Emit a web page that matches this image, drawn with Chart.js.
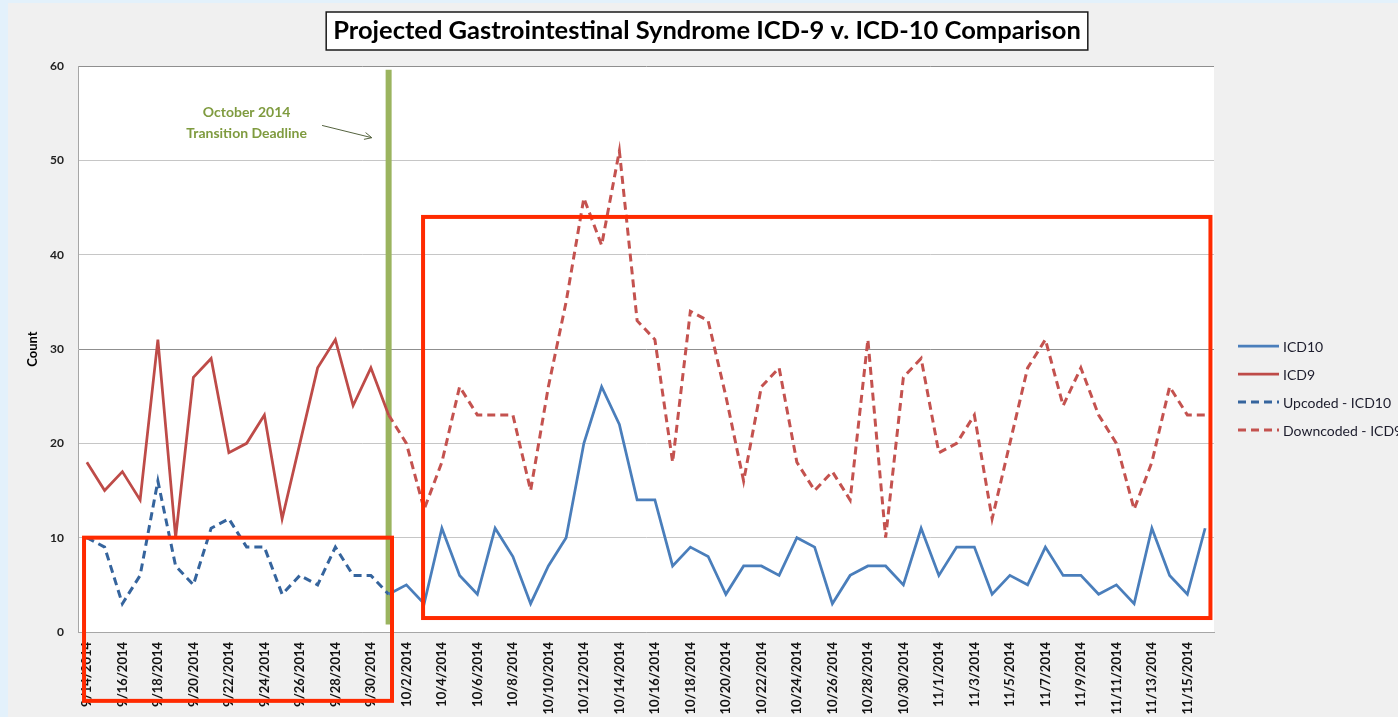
<!DOCTYPE html>
<html>
<head>
<meta charset="utf-8">
<title>Projected Gastrointestinal Syndrome ICD-9 v. ICD-10 Comparison</title>
<script src="https://cdn.jsdelivr.net/npm/chart.js@4.4.1/dist/chart.umd.min.js"></script>
<style>
  html, body { margin: 0; padding: 0; background: #f0f0f0; overflow: hidden; }
  #wrap { position: relative; width: 1398px; height: 717px; }
</style>
</head>
<body>
<div id="wrap"><canvas id="chart"></canvas></div>
<script>
// data
const dates = [
    '9/14/2014', '9/15/2014', '9/16/2014', '9/17/2014', '9/18/2014', '9/19/2014', '9/20/2014', '9/21/2014',
    '9/22/2014', '9/23/2014', '9/24/2014', '9/25/2014', '9/26/2014', '9/27/2014', '9/28/2014', '9/29/2014',
    '9/30/2014', '10/1/2014', '10/2/2014', '10/3/2014', '10/4/2014', '10/5/2014', '10/6/2014', '10/7/2014',
    '10/8/2014', '10/9/2014', '10/10/2014', '10/11/2014', '10/12/2014', '10/13/2014', '10/14/2014', '10/15/2014',
    '10/16/2014', '10/17/2014', '10/18/2014', '10/19/2014', '10/20/2014', '10/21/2014', '10/22/2014', '10/23/2014',
    '10/24/2014', '10/25/2014', '10/26/2014', '10/27/2014', '10/28/2014', '10/29/2014', '10/30/2014', '10/31/2014',
    '11/1/2014', '11/2/2014', '11/3/2014', '11/4/2014', '11/5/2014', '11/6/2014', '11/7/2014', '11/8/2014',
    '11/9/2014', '11/10/2014', '11/11/2014', '11/12/2014', '11/13/2014', '11/14/2014', '11/15/2014', '11/16/2014'
];
const transitionIndex = 17; // 10/1/2014

// 9/14 - 10/1
const icd9 = [18, 15, 17, 14, 31, 10, 27, 29, 19, 20, 23, 12, 20, 28, 31, 24, 28, 23];
const upcodedIcd10 = [10, 9, 3, 6, 16, 7, 5, 11, 12, 9, 9, 4, 6, 5, 9, 6, 6, 4];

// 10/1 - 11/16
const icd10 = [4, 5, 3, 11, 6, 4, 11, 8, 3, 7, 10, 20, 26, 22, 14, 14, 7, 9, 8, 4, 7, 7, 6, 10,
    9, 3, 6, 7, 7, 5, 11, 6, 9, 9, 4, 6, 5, 9, 6, 6, 4, 5, 3, 11, 6, 4, 11];
const downcodedIcd9 = [23, 20, 13, 18, 26, 23, 23, 23, 15, 26, 35, 46, 41, 51, 33, 31, 18, 34, 33, 25, 16, 26, 28, 18,
    15, 17, 14, 31, 10, 27, 29, 19, 20, 23, 12, 20, 28, 31, 24, 28, 23, 20, 13, 18, 26, 23, 23];

const yTicks = [0, 10, 20, 30, 40, 50, 60];

const chartTitle = 'Projected Gastrointestinal Syndrome ICD-9 v. ICD-10 Comparison';
const noteLines = ['October 2014', 'Transition Deadline'];

// place a partial series on the full date axis
function placeSeries(values, start) {
    const out = new Array(dates.length).fill(null);
    values.forEach((v, i) => { out[start + i] = v; });
    return out;
}

Chart.defaults.font.family = 'Lato, "Liberation Sans", sans-serif';

// background, marker line, note, boxes, title and legend
const decorPlugin = {
    id: 'decor',
    beforeDraw(chart) {
        const { ctx, chartArea: a, width, height } = chart;
        ctx.save();
        ctx.fillStyle = '#f0f0f0';
        ctx.fillRect(0, 0, width, height);
        ctx.fillStyle = '#e3f1fb';
        ctx.fillRect(0, 0, 8, height);
        ctx.fillRect(0, 0, width, 3);
        ctx.fillStyle = '#ffffff';
        ctx.fillRect(a.left, a.top, a.right - a.left, a.bottom - a.top);
        ctx.restore();
    },
    beforeDatasetsDraw(chart) {
        const { ctx } = chart;
        const xs = chart.scales.x, ys = chart.scales.y;
        ctx.save();
        // transition line
        const gx = xs.getPixelForValue(transitionIndex);
        ctx.strokeStyle = '#9bb45f';
        ctx.lineWidth = 6;
        ctx.beginPath();
        ctx.moveTo(gx, ys.getPixelForValue(59.6));
        ctx.lineTo(gx, ys.getPixelForValue(0.8));
        ctx.stroke();

        // note text
        ctx.fillStyle = '#7f9b3f';
        ctx.font = 'bold 14px Lato, sans-serif';
        ctx.textAlign = 'center';
        ctx.textBaseline = 'middle';
        ctx.fillText(noteLines[0], xs.getPixelForValue(9), ys.getPixelForValue(55.1));
        ctx.fillText(noteLines[1], xs.getPixelForValue(9), ys.getPixelForValue(52.8));

        // arrow
        const x1 = xs.getPixelForValue(13.25), y1 = ys.getPixelForValue(53.7);
        const x2 = xs.getPixelForValue(16.05), y2 = ys.getPixelForValue(52.4);
        const ang = Math.atan2(y2 - y1, x2 - x1);
        ctx.strokeStyle = '#55633f';
        ctx.lineWidth = 1;
        ctx.beginPath();
        ctx.moveTo(x1, y1);
        ctx.lineTo(x2, y2);
        ctx.moveTo(x2 - 8 * Math.cos(ang - 0.45), y2 - 8 * Math.sin(ang - 0.45));
        ctx.lineTo(x2, y2);
        ctx.lineTo(x2 - 8 * Math.cos(ang + 0.45), y2 - 8 * Math.sin(ang + 0.45));
        ctx.stroke();
        ctx.restore();
    },
    afterDatasetsDraw(chart) {
        const { ctx } = chart;
        const xs = chart.scales.x, ys = chart.scales.y;
        ctx.save();
        ctx.strokeStyle = '#ff2a00';
        ctx.lineWidth = 4;
        let l = xs.getPixelForValue(-0.16), r = xs.getPixelForValue(17.19);
        let t = ys.getPixelForValue(10), b = ys.getPixelForValue(-7.3);
        ctx.strokeRect(l, t, r - l, b - t);
        l = xs.getPixelForValue(18.94); r = xs.getPixelForValue(63.3);
        t = ys.getPixelForValue(44); b = ys.getPixelForValue(1.48);
        ctx.strokeRect(l, t, r - l, b - t);
        ctx.restore();
    },
    afterDraw(chart) {
        const { ctx, chartArea: a, width } = chart;
        ctx.save();
        // title in a box
        ctx.font = 'bold 25.5px Lato, sans-serif';
        const tw = ctx.measureText(chartTitle).width;
        const cx = width / 2 + 8, cy = 31;
        ctx.fillStyle = '#ffffff';
        ctx.fillRect(cx - tw / 2 - 7, cy - 19, tw + 14, 38);
        ctx.strokeStyle = '#1a1a1a';
        ctx.lineWidth = 1.5;
        ctx.strokeRect(cx - tw / 2 - 7, cy - 19, tw + 14, 38);
        ctx.fillStyle = '#000000';
        ctx.textAlign = 'center';
        ctx.textBaseline = 'middle';
        ctx.fillText(chartTitle, cx, cy);

        // legend
        ctx.font = '14px Lato, sans-serif';
        ctx.textAlign = 'left';
        chart.data.datasets.forEach((ds, i) => {
            const y = a.top + 280 + i * 28;
            ctx.strokeStyle = ds.borderColor;
            ctx.lineWidth = ds.borderWidth;
            ctx.setLineDash(ds.borderDash || []);
            ctx.beginPath();
            ctx.moveTo(a.right + 24, y);
            ctx.lineTo(a.right + 65, y);
            ctx.stroke();
            ctx.setLineDash([]);
            ctx.fillStyle = '#1c1c2c';
            ctx.fillText(ds.label, a.right + 69, y + 1);
        });
        ctx.restore();
    }
};

new Chart(document.getElementById('chart'), {
    type: 'line',
    data: {
        labels: dates,
        datasets: [
            {
                label: 'ICD10',
                data: placeSeries(icd10, transitionIndex),
                borderColor: '#4a7ebb',
                borderWidth: 2.75
            },
            {
                label: 'ICD9',
                data: placeSeries(icd9, 0),
                borderColor: '#be4b48',
                borderWidth: 2.75
            },
            {
                label: 'Upcoded - ICD10',
                data: placeSeries(upcodedIcd10, 0),
                borderColor: '#35649d',
                borderWidth: 3,
                borderDash: [8, 5]
            },
            {
                label: 'Downcoded - ICD9',
                data: placeSeries(downcodedIcd9, transitionIndex),
                borderColor: '#c4524f',
                borderWidth: 3,
                borderDash: [8, 5]
            }
        ]
    },
    options: {
        responsive: true,
        maintainAspectRatio: false,
        animation: false,
        devicePixelRatio: 1,
        layout: { padding: { left: 0, top: 66, right: 184, bottom: 0 } },
        elements: {
            point: { radius: 0, hoverRadius: 0 },
            line: { tension: 0, borderCapStyle: 'butt' }
        },
        plugins: {
            legend: { display: false },
            title: { display: false },
            tooltip: { enabled: false }
        },
        scales: {
            x: {
                offset: true,
                grid: { display: false, drawTicks: false },
                border: { display: true, color: '#a6a6a6', width: 1 },
                ticks: {
                    autoSkip: false,
                    minRotation: 90,
                    maxRotation: 90,
                    padding: 10,
                    color: '#111111',
                    font: { size: 13, weight: 'bold' },
                    callback: (v, i) => (i % 2 === 0 ? dates[i] : '')
                },
                afterFit: (scale) => { scale.height = 85; }
            },
            y: {
                min: yTicks[0],
                max: yTicks[yTicks.length - 1],
                grid: {
                    drawTicks: false,
                    color: (c) => (c.tick && (c.tick.value === 30 || c.tick.value === 60) ? '#8f8f8f' : '#c6c6c6'),
                    lineWidth: 1
                },
                border: { display: true, color: '#a6a6a6', width: 1 },
                ticks: {
                    stepSize: 10,
                    padding: 14,
                    color: '#222222',
                    font: { size: 12, weight: 'bold' }
                },
                title: {
                    display: true,
                    text: 'Count',
                    color: '#000000',
                    font: { size: 13, weight: 'bold' },
                    padding: { top: 25, bottom: 0 }
                },
                afterFit: (scale) => { scale.width = 78; }
            }
        }
    },
    plugins: [decorPlugin]
});
</script>
</body>
</html>
